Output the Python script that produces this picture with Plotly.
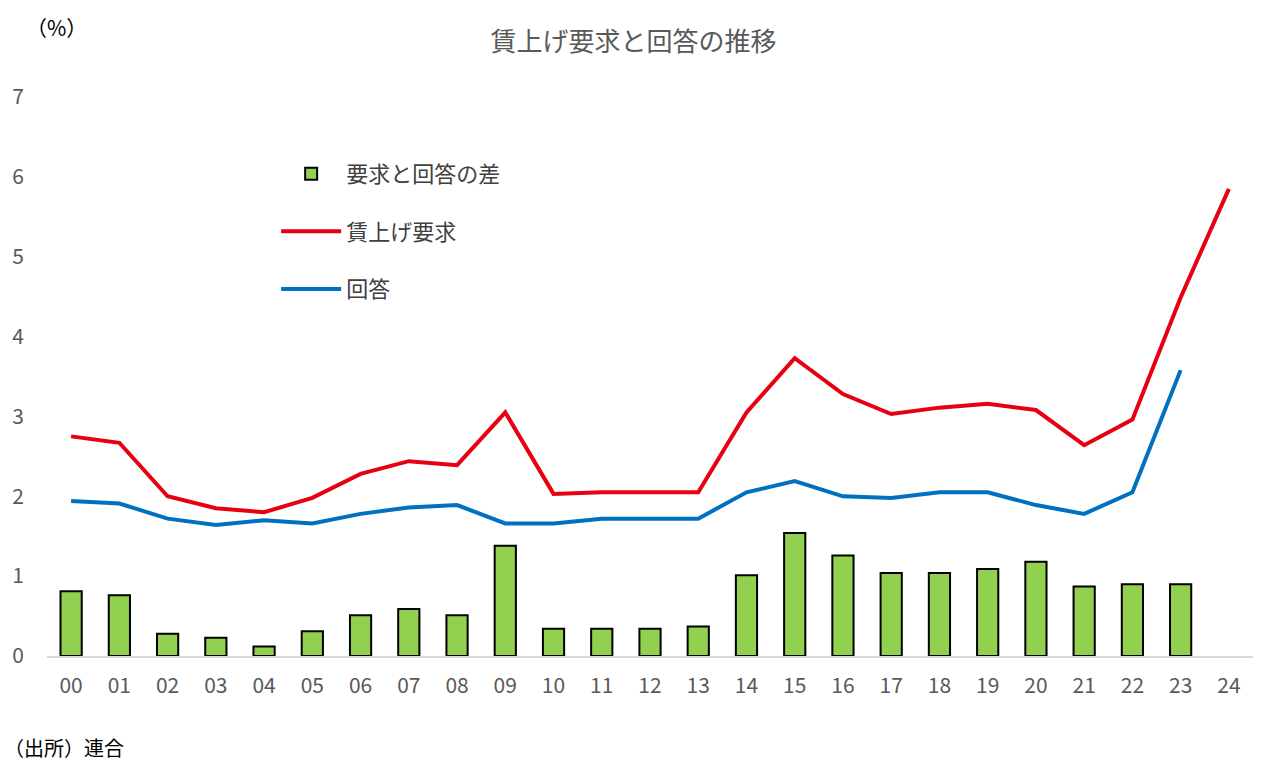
import plotly.graph_objects as go

years = ["00","01","02","03","04","05","06","07","08","09","10","11","12",
         "13","14","15","16","17","18","19","20","21","22","23","24"]
demand = [2.75,2.67,2.0,1.85,1.8,1.98,2.28,2.44,2.39,3.05,2.03,2.05,2.05,
          2.05,3.05,3.73,3.28,3.03,3.11,3.16,3.08,2.64,2.96,4.49,5.85]
answer = [1.94,1.91,1.72,1.64,1.70,1.66,1.78,1.86,1.89,1.66,1.66,1.72,1.72,
          1.72,2.05,2.19,2.0,1.98,2.05,2.05,1.89,1.78,2.05,3.58,None]
gap = [0.81,0.76,0.28,0.23,0.12,0.31,0.51,0.59,0.51,1.38,0.34,0.34,0.34,
       0.37,1.01,1.54,1.26,1.04,1.04,1.09,1.18,0.87,0.90,0.90,None]

font = "Noto Sans CJK JP"
grey = "#595959"

fig = go.Figure()
fig.add_trace(go.Bar(x=years, y=gap, name="要求と回答の差", width=0.44,
                     marker=dict(color="#92D050", line=dict(color="#000000", width=2)),
                     legendgroup="a"))
fig.add_trace(go.Scatter(x=years, y=demand, name="賃上げ要求", mode="lines",
                         line=dict(color="#E60012", width=4), legendgroup="b"))
fig.add_trace(go.Scatter(x=years, y=answer, name="回答", mode="lines",
                         line=dict(color="#0070C0", width=4), legendgroup="c"))

fig.update_layout(
    width=1267, height=764,
    margin=dict(l=47, r=14, t=97, b=108),
    paper_bgcolor="white", plot_bgcolor="white",
    font=dict(family=font, color=grey, size=20),
    title=dict(text="賃上げ要求と回答の推移", x=0.5, xanchor="center", y=0.945,
               yanchor="middle", font=dict(size=26, color=grey, family=font)),
    showlegend=True,
    legend=dict(x=0.19, y=0.90, xanchor="left", yanchor="top",
                font=dict(size=22, color="#404040", family=font),
                tracegroupgap=26, itemwidth=60, traceorder="grouped",
                bgcolor="rgba(0,0,0,0)"),
    bargap=0.5,
    xaxis=dict(type="category", showgrid=False, showline=True, linecolor="#D9D9D9",
               linewidth=2, ticks="", tickfont=dict(size=21, color=grey),
               ticklabelstandoff=10, range=[-0.5, 24.5]),
    yaxis=dict(range=[0, 7], dtick=1, showgrid=False, zeroline=False, showline=False,
               ticks="", tickfont=dict(size=21, color=grey), ticklabelstandoff=22),
    annotations=[
        dict(text="（%）", xref="paper", yref="paper", x=0.008, y=1.125,
             xanchor="center", yanchor="middle", showarrow=False,
             font=dict(size=21, color="#000000", family=font)),
        dict(text="（出所）連合", xref="paper", yref="paper", x=-0.037, y=-0.193,
             xanchor="left", yanchor="bottom", showarrow=False,
             font=dict(size=20, color="#000000", family=font)),
    ],
)

fig.write_html("out.html")
